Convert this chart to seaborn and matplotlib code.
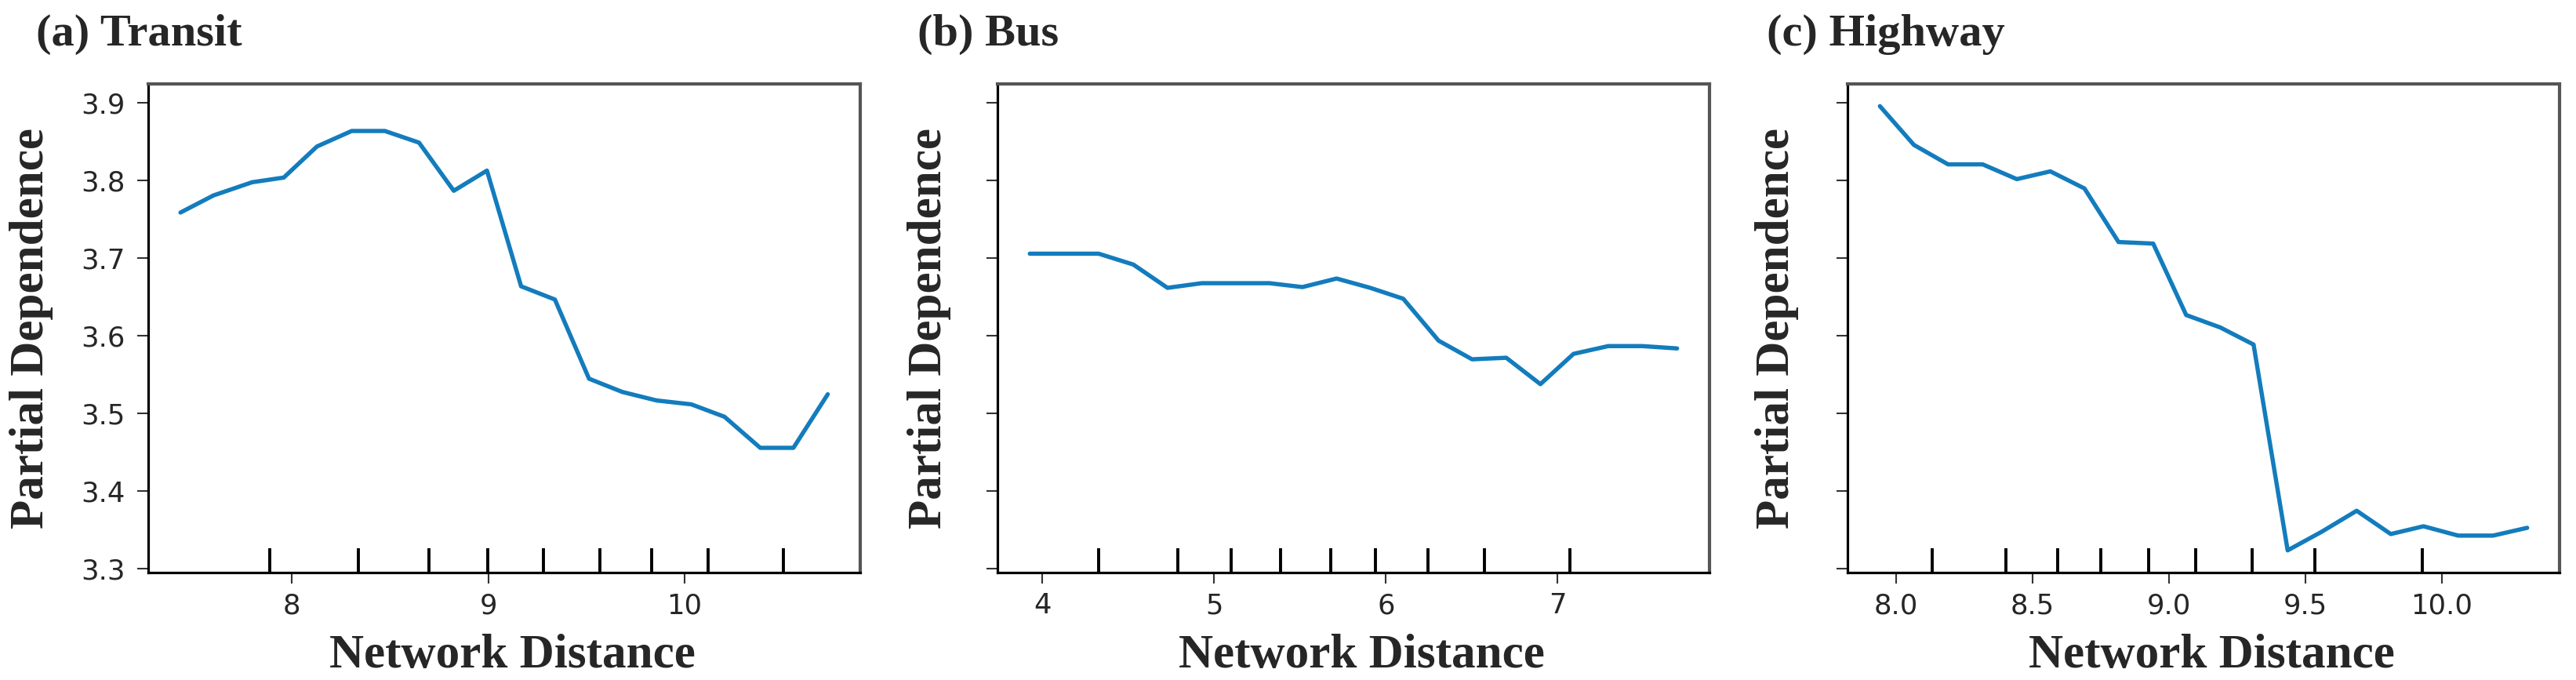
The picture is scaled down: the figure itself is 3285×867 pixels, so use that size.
import numpy as np
import pandas as pd
import matplotlib
matplotlib.use("Agg")
import matplotlib.pyplot as plt
import seaborn as sns
from matplotlib.ticker import MultipleLocator

# ---------------- data ----------------
transit_x = [7.432, 7.600, 7.797, 7.958, 8.127, 8.304, 8.473, 8.647, 8.824, 8.993,
             9.167, 9.339, 9.513, 9.682, 9.857, 10.034, 10.203, 10.385, 10.554, 10.729]
transit_y = [3.759, 3.781, 3.798, 3.804, 3.844, 3.864, 3.864, 3.849, 3.787, 3.813,
             3.664, 3.647, 3.545, 3.528, 3.517, 3.512, 3.496, 3.456, 3.456, 3.525]
transit_deciles = [7.887, 8.338, 8.698, 8.996, 9.280, 9.570, 9.831, 10.118, 10.503]

bus_x = [3.926, 4.125, 4.327, 4.529, 4.728, 4.927, 5.120, 5.322, 5.514, 5.713,
         5.909, 6.101, 6.307, 6.502, 6.701, 6.900, 7.093, 7.295, 7.494, 7.696]
bus_y = [3.706, 3.706, 3.706, 3.692, 3.662, 3.668, 3.668, 3.668, 3.663, 3.674,
         3.662, 3.648, 3.594, 3.570, 3.572, 3.538, 3.577, 3.587, 3.587, 3.584]
bus_deciles = [4.327, 4.786, 5.097, 5.386, 5.681, 5.941, 6.243, 6.573, 7.070]

highway_x = [7.940, 8.065, 8.190, 8.317, 8.442, 8.565, 8.690, 8.815, 8.942, 9.063,
             9.188, 9.310, 9.435, 9.560, 9.688, 9.813, 9.933, 10.060, 10.188, 10.313]
highway_y = [3.896, 3.846, 3.821, 3.821, 3.802, 3.812, 3.790, 3.721, 3.719, 3.627,
             3.611, 3.589, 3.324, 3.348, 3.375, 3.345, 3.355, 3.343, 3.343, 3.353]
highway_deciles = [8.131, 8.401, 8.593, 8.750, 8.925, 9.097, 9.305, 9.536, 9.929]

titles = ["(a) Transit", "(b) Bus", "(c) Highway"]
x_label = "Network Distance"
y_label = "Partial Dependence"

panels = [
    (transit_x, transit_y, transit_deciles, 1.0),
    (bus_x, bus_y, bus_deciles, 1.0),
    (highway_x, highway_y, highway_deciles, 0.5),
]

# ---------------- style ----------------
sns.set_style("ticks")
plt.rcParams['font.family'] = ['DejaVu Sans']
line_color = "#137cbd"
serif = ['Liberation Serif', 'DejaVu Serif']

fig = plt.figure(figsize=(32.85, 8.67), dpi=100)

lefts = [0.0575, 0.3872, 0.7172]
title_x = [-0.157, -0.112, -0.113]
ylab_x = [-0.133, -0.065, -0.068]
axes = []
for i, (xs, ys, dec, step) in enumerate(panels):
    ax = fig.add_axes([lefts[i], 0.158, 0.2764, 0.7186])
    if axes:
        ax.sharey(axes[0])
    axes.append(ax)

    df = pd.DataFrame({"x": xs, "y": ys})
    sns.lineplot(data=df, x="x", y="y", ax=ax, color=line_color, lw=3.9)
    ax.vlines(dec, 0, 0.05, transform=ax.get_xaxis_transform(), colors="black", lw=2.8)

    ax.xaxis.set_major_locator(MultipleLocator(step))
    ax.yaxis.set_major_locator(MultipleLocator(0.1))
    ax.tick_params(axis="both", length=10, width=1.5, color="#333333", labelsize=25.5)
    ax.tick_params(axis="x", pad=8)
    ax.tick_params(axis="y", pad=11)
    if i > 0:
        ax.tick_params(axis="y", labelleft=False)

    for side in ["left", "bottom"]:
        ax.spines[side].set_linewidth(2.3)
        ax.spines[side].set_color("black")
    for side in ["top", "right"]:
        ax.spines[side].set_visible(True)
        ax.spines[side].set_linewidth(3.0)
        ax.spines[side].set_color("#555555")

    ax.set_xlabel(x_label, family=serif, fontweight="bold", fontsize=44)
    ax.set_ylabel(y_label, family=serif, fontweight="bold", fontsize=44)
    ax.xaxis.set_label_coords(0.512, -0.125)
    ax.yaxis.set_label_coords(ylab_x[i], 0.5)
    ax.text(title_x[i], 1.101, titles[i], transform=ax.transAxes, family=serif,
            fontweight="bold", fontsize=42, ha="left", va="center")

axes[0].margins(x=0.05, y=0.05)

fig.savefig("out.png", dpi=100)
